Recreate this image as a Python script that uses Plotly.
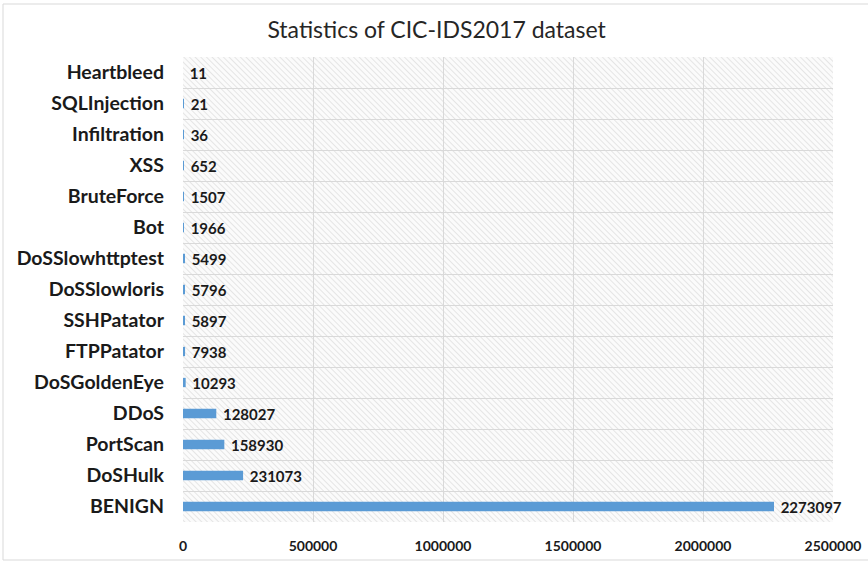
import base64
import plotly.graph_objects as go

categories = ["BENIGN", "DoSHulk", "PortScan", "DDoS", "DoSGoldenEye", "FTPPatator",
              "SSHPatator", "DoSSlowloris", "DoSSlowhttptest", "Bot", "BruteForce",
              "XSS", "Infiltration", "SQLInjection", "Heartbleed"]
counts = [2273097, 231073, 158930, 128027, 10293, 7938, 5897, 5796, 5499, 1966, 1507,
          652, 36, 21, 11]
x_ticks = [0, 500000, 1000000, 1500000, 2000000, 2500000]

W, H = 868, 562
ML, MR, MT, MB = 183, 35, 57, 40
PW, PH = W - ML - MR, H - MT - MB

svg = f'''<svg xmlns="http://www.w3.org/2000/svg" width="{PW}" height="{PH}" viewBox="0 0 {PW} {PH}" preserveAspectRatio="none">
<defs><pattern id="h" patternUnits="userSpaceOnUse" width="4" height="4" patternTransform="rotate(-45)">
<rect width="4" height="4" fill="#fbfbfb"/>
<line x1="0" y1="0" x2="0" y2="4" stroke="#d3d3d3" stroke-width="1.1"/></pattern></defs>
<rect width="{PW}" height="{PH}" fill="url(#h)"/></svg>'''
src = "data:image/svg+xml;base64," + base64.b64encode(svg.encode()).decode()

fig = go.Figure(go.Bar(
    x=counts, y=categories, orientation="h",
    marker=dict(color="#5B9BD5", line=dict(width=0)),
    width=0.3,
    text=[f" {v}" for v in counts], textposition="outside", constraintext="none",
    textfont=dict(family="Lato", size=15, color="#1a1a1a", weight="bold"),
    cliponaxis=False,
))

fig.update_layout(
    width=W, height=H,
    margin=dict(l=ML, r=MR, t=MT, b=MB, autoexpand=False),
    paper_bgcolor="white", plot_bgcolor="rgba(0,0,0,0)",
    title=dict(text="Statistics of CIC-IDS2017 dataset", x=0.503, xref="container",
               xanchor="center", y=0.947, yanchor="middle",
               font=dict(family="Lato", size=23, color="#262626")),
    showlegend=False,
    images=[dict(source=src, xref="paper", yref="paper", x=0, y=1, sizex=1, sizey=1,
                 xanchor="left", yanchor="top", sizing="stretch", layer="below")],
    shapes=[dict(type="rect", xref="paper", yref="paper",
                 x0=(3 - ML) / PW, x1=(W + 5 - ML) / PW,
                 y0=-(560 - (H - MB)) / PH, y1=1 + (MT - 4) / PH,
                 line=dict(color="#d9d9d9", width=1), fillcolor="rgba(0,0,0,0)",
                 layer="below")],
)

fig.update_xaxes(range=[0, 2500000], tickvals=x_ticks, ticktext=[str(v) for v in x_ticks],
                 showgrid=True, gridcolor="#d9d9d9", gridwidth=1, zeroline=False,
                 showline=False, ticks="", ticklabelstandoff=14, automargin=False,
                 tickfont=dict(family="Lato", size=14, color="#1a1a1a", weight="bold"))
fig.update_yaxes(categoryorder="array", categoryarray=categories, tickson="boundaries",
                 showgrid=True, gridcolor="#d9d9d9", gridwidth=1, showline=False,
                 ticks="", ticklabelstandoff=18, automargin=False,
                 tickfont=dict(family="Lato", size=19.5, color="#1a1a1a", weight="bold"))

fig.write_html("out.html")
